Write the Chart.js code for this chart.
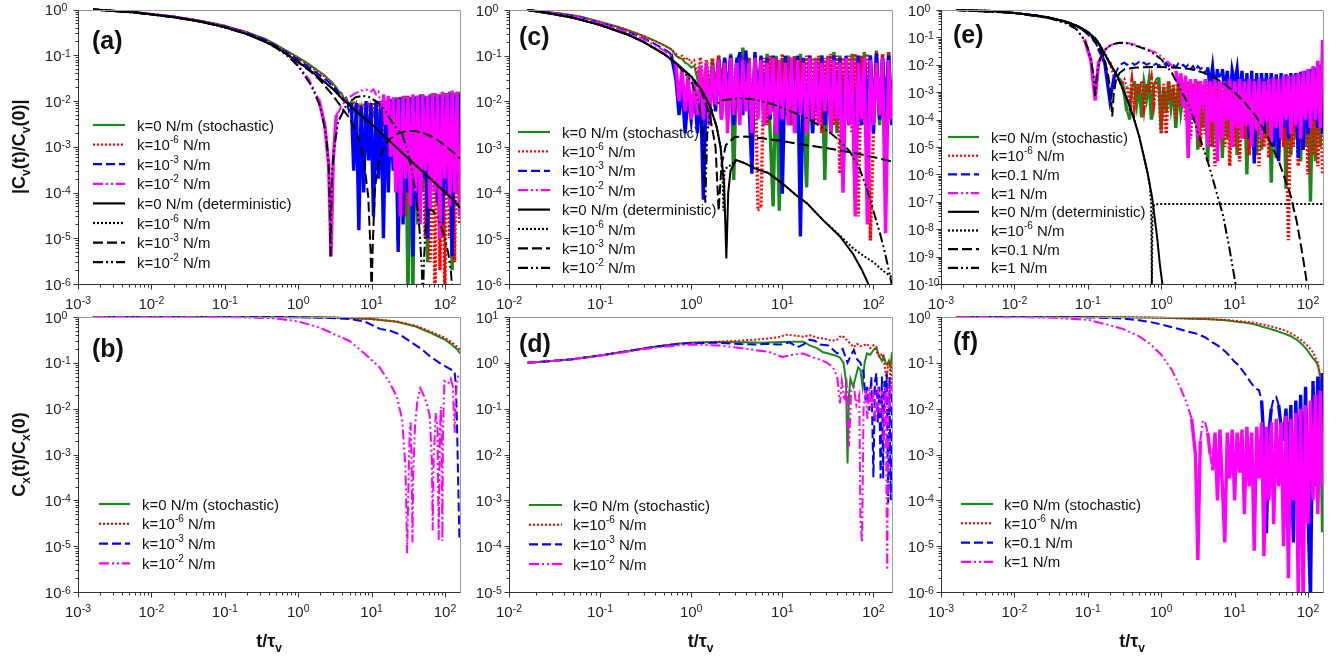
<!DOCTYPE html>
<html>
<head>
<meta charset="utf-8">
<title>Velocity and position autocorrelation</title>
<script src="https://cdn.jsdelivr.net/npm/chart.js@4.4.1/dist/chart.umd.min.js"></script>
<style>
  html, body { margin: 0; padding: 0; background: #fff; }
  #fig { position: relative; width: 1339px; height: 658px; overflow: hidden; background: #fff; }
  #fig canvas { position: absolute; }
</style>
</head>
<body>
<div id="fig">
  <canvas id="pa"></canvas>
  <canvas id="pc"></canvas>
  <canvas id="pe"></canvas>
  <canvas id="pb"></canvas>
  <canvas id="pd"></canvas>
  <canvas id="pf"></canvas>
</div>
<script>
// ---- tick labels (powers of ten) ----
const xExp3 = [-3, -2, -1, 0, 1, 2];
const xExp2 = [-2, -1, 0, 1, 2];
const yExp6 = [0, -1, -2, -3, -4, -5, -6];
const yExpD = [1, 0, -1, -2, -3, -4, -5];
const yExpE = [0, -1, -2, -3, -4, -5, -6, -7, -8, -9, -10];

// ---- legend labels ----
const labStoch = ['k=0 N/m (stochastic)', 'k=10^{-6} N/m', 'k=10^{-3} N/m', 'k=10^{-2} N/m'];
const labDet = ['k=0 N/m (deterministic)', 'k=10^{-6} N/m', 'k=10^{-3} N/m', 'k=10^{-2} N/m'];
const labStochE = ['k=0 N/m (stochastic)', 'k=10^{-6} N/m', 'k=0.1 N/m', 'k=1 N/m'];
const labDetE = ['k=0 N/m (deterministic)', 'k=10^{-6} N/m', 'k=0.1 N/m', 'k=1 N/m'];

// ---- panel (a): |Cv(t)/Cv(0)| ----
const tA = [0.0016,0.003,0.006,0.01,0.02,0.04,0.07,0.1,0.2,0.35,0.5,0.7,1,1.4,1.9,2.3,2.6,2.8,3.0,
  3.3,3.6,3.9,4.2,4.5,4.9,5.3,5.7,6.2,6.7,7.2,7.8,8.4,9.1,9.8,10.6,11.5,12.4,13.4,14.5,
  15.6,16.9,18.2,19.7,21.3,23,24.8,26.8,29,31.3,33.8,36.5,39.4,42.6,46,49.7,53.7,58,62.6,67.6,
  73,78.9,85.2,92,99.4,107,116,125,135,146,158];
const aGreen = [1,0.94,0.87,0.8,0.7,0.59,0.5,0.44,0.32,0.23,0.17,0.125,0.09,0.064,0.045,0.036,0.03,0.027,0.024,
  0.02,0.016,0.015,0.011,0.012,0.008,0.01,0.006,0.009,0.005,
  0.008,0.004,0.007,0.003,0.008,0.005,0.009,0.002,0.008,0.003,
  0.01,0.002,0.011,4e-4,0.012,8e-6,0.012,1e-4,0.013,5e-7,
  0.012,5e-7,0.013,2e-5,0.014,1e-4,0.013,3e-6,0.014,2e-4,
  0.015,5e-5,0.014,1e-5,0.015,3e-4,0.016,2e-6,0.015,1e-4,
  0.016];
const aRed = [1,0.94,0.87,0.8,0.7,0.59,0.5,0.44,0.32,0.22,0.165,0.12,0.085,0.06,0.042,0.034,0.029,0.025,0.022,
  0.019,0.015,0.014,0.011,0.01,0.009,0.007,0.01,0.006,0.008,
  0.004,0.009,0.005,0.008,0.003,0.009,0.004,0.01,0.002,0.009,
  5e-4,0.01,0.003,0.011,2e-4,0.012,1e-3,0.012,3e-5,0.013,
  2e-4,0.012,6e-5,0.013,5e-4,0.014,1e-5,0.013,3e-6,0.014,
  5e-7,0.014,2e-6,0.015,5e-7,0.014,1e-5,0.015,3e-6,0.016,
  2e-5];
const aBlue = [1,0.94,0.87,0.8,0.7,0.59,0.49,0.43,0.31,0.22,0.16,0.115,0.08,0.055,0.038,0.03,0.026,0.023,0.02,
  0.018,0.014,0.013,0.01,0.011,0.006,0.009,3e-4,0.009,1.5e-5,
  0.008,1e-4,0.01,5e-4,0.009,3e-5,0.01,2e-4,0.01,1e-5,
  0.01,1e-4,0.011,3e-4,0.011,5e-6,0.012,2e-5,0.011,1e-4,
  0.012,4e-6,0.012,5e-5,0.013,2e-4,0.012,1e-5,0.013,3e-4,
  0.012,6e-5,0.013,2e-5,0.012,1e-4,0.014,4e-6,0.013,2e-4,
  0.014];
const aMag = [1,0.94,0.87,0.8,0.7,0.59,0.49,0.43,0.3,0.2,0.15,0.1,0.06,0.03,0.011,3e-3,4e-4,4e-6,5e-4,
  5e-3,6e-3,8e-3,9e-3,0.011,0.012,0.013,0.014,0.015,0.016,
  0.017,0.017,0.018,0.017,0.016,0.018,0.014,0.016,0.008,0.014,
  0.003,0.013,6e-4,0.012,1e-4,0.011,3e-5,0.013,2e-4,0.012,
  5e-5,0.014,1e-4,0.013,2e-5,0.014,3e-4,0.013,4e-5,0.015,
  1e-4,0.014,1e-5,0.016,2e-4,0.015,5e-5,0.017,1e-4,0.016,
  3e-5];
const aDet0 = [[0.0016,1],[0.003,0.93],[0.006,0.86],[0.01,0.78],[0.02,0.68],[0.04,0.57],[0.07,0.47],[0.1,0.41],
  [0.2,0.29],[0.35,0.2],[0.5,0.15],[0.7,0.105],[1,0.072],[1.5,0.045],[2,0.031],[3,0.018],[4,0.011],[6,0.0062],
  [10,0.0031],[15,0.0017],[20,0.0011],[30,6e-4],[50,2.8e-4],[70,1.7e-4],[100,1e-4],[130,6.8e-5],[160,4.6e-5]];
const aDet6 = [[0.0016,1],[0.003,0.93],[0.006,0.86],[0.01,0.78],[0.02,0.68],[0.04,0.57],[0.07,0.47],[0.1,0.41],
  [0.2,0.29],[0.35,0.2],[0.5,0.15],[0.7,0.105],[1,0.072],[1.5,0.045],[2,0.031],[3,0.018],[4,0.011],[6,0.0062],
  [10,0.0031],[15,0.0017],[20,0.0011],[30,6.1e-4],[50,2.9e-4],[70,1.75e-4],[100,1.05e-4],[130,7.2e-5],[160,5e-5]];
const aDet3 = [[0.0016,1],[0.003,0.93],[0.006,0.86],[0.01,0.78],[0.02,0.68],[0.04,0.57],[0.07,0.47],[0.1,0.41],
  [0.2,0.29],[0.35,0.2],[0.5,0.15],[0.7,0.104],[1,0.07],[1.5,0.043],[2,0.028],[3,0.013],[4,0.0068],[5,0.0042],
  [6,0.0024],[7,0.0012],[8,4e-4],[9,8e-5],[9.7,5e-6],[10,5e-7],[10.3,5e-6],[11,1e-4],[12,3.5e-4],[14,8e-4],
  [17,1.4e-3],[22,1.9e-3],[30,2.2e-3],[40,2.2e-3],[55,1.9e-3],[75,1.5e-3],[100,1.05e-3],[130,7.5e-4],[160,5.5e-4]];
const aDet2 = [[0.0016,1],[0.003,0.93],[0.006,0.86],[0.01,0.78],[0.02,0.68],[0.04,0.57],[0.07,0.47],[0.1,0.41],
  [0.2,0.29],[0.35,0.2],[0.5,0.145],[0.7,0.1],[1,0.058],[1.5,0.022],[2,0.0075],[2.4,0.0018],[2.6,4e-4],
  [2.7,3.5e-5],[2.75,4e-6],[2.8,3e-5],[2.9,3e-4],[3.1,1e-3],[3.5,3.5e-3],[4.5,8e-3],[6,0.012],[7.5,0.013],
  [9,0.0125],[12,0.0095],[15,0.0065],[20,0.003],[26,1.9e-3],[31,8e-4],[36,2.5e-4],[41,7e-5],[45,1.5e-5],
  [48,2.5e-6],[50,5e-7],[52,4e-6],[55,2.2e-5],[60,4.2e-5],[68,4e-5],[80,2.8e-5],[95,1.3e-5],[110,5e-6],
  [120,2e-6],[128,5e-7]];

// ---- panel (b): Cx(t)/Cx(0) ----
const bGreen = [[0.0016,1],[0.1,1],[1,0.99],[3,0.97],[10,0.9],[22,0.79],[40,0.62],[62,0.46],[80,0.38],
  [100,0.32],[120,0.26],[135,0.22],[145,0.2],[160,0.16]];
const bRed = [[0.0016,1],[0.1,1],[1,0.99],[3,0.97],[10,0.9],[22,0.8],[40,0.64],[62,0.49],[80,0.41],
  [100,0.35],[120,0.29],[135,0.25],[148,0.22],[160,0.19]];
const bBlue = [[0.0016,1],[0.5,1],[1,0.99],[2.7,0.95],[5,0.9],[8,0.8],[13,0.55],[18,0.5],[24,0.42],[36,0.27],
  [50,0.19],[62,0.14],[84,0.1],[100,0.085],[123,0.07],[135,0.065],[141,0.03],[145,6e-3],[149,8e-4],
  [153,1e-4],[157,1.5e-5]];
const bMag = [[0.0016,1],[0.05,1],[0.2,0.98],[0.5,0.93],[1,0.8],[2,0.58],[3,0.43],[5,0.3],[8,0.16],
  [12.8,0.08],[18,0.035],[22,0.018],[26,0.006],[29,5e-4],[30.5,7e-6],[32,4e-4],[33,3e-3],[34,5e-3],
  [35,8e-4],[36,1.2e-5],[37,4e-4],[39,4e-3],[42,0.015],[46,0.028],[51,0.02],[57,0.012],[62,0.007],
  [66,8e-4],[68,2.2e-5],[70,8e-4],[75,0.008],[79,0.004],[82,1.3e-5],[85,0.003],[88,0.011],[90,0.002],
  [92,1.3e-5],[94,0.003],[98,0.04],[110,0.035],[120,0.045],[128,0.03],[133,0.006],[136,0.003],
  [140,0.02],[150,0.05],[160,0.048]];

// ---- panel (c): |Cv(t)/Cv(0)| ----
const tC = [0.016,0.025,0.04,0.06,0.1,0.15,0.2,0.3,0.4,0.5,0.6,
  0.681,0.736,0.794,0.858,0.926,1,1.08,1.17,1.26,1.36,1.47,1.58,1.71,1.85,2,2.15,2.33,2.51,2.71,2.93,
  3.16,3.41,3.69,3.98,4.3,4.64,5.01,5.41,5.84,6.31,6.81,7.36,7.94,8.58,9.26,10,10.8,11.7,12.6,13.6,
  14.7,15.8,17.1,18.5,20,21.5,23.3,25.1,27.1,29.3,31.6,34.1,36.9,39.8,43,46.4,50.1,54.1,58.4,63.1,
  68.1,73.6,79.4,85.8,92.6,100,108,117,126,136,147,158];
const cGreen = [1,0.92,0.82,0.72,0.55,0.44,0.36,0.27,0.21,0.17,0.14,
  0.1,0.09,0.085,0.07,0.065,0.055,0.06,0.03,0.06,1.9e-4,
  0.06,0.01,0.08,0.015,0.1,0.02,0.09,0.008,0.11,1.9e-4,
  0.09,0.004,0.15,0.01,0.09,0.003,0.1,0.008,0.09,0.005,
  0.11,0.002,5e-5,0.1,4e-5,0.09,0.006,0.1,0.003,0.09,
  0.002,0.11,0.004,1.3e-4,0.1,0.002,0.09,0.004,0.1,1.9e-4,
  0.1,0.005,0.12,0.002,0.1,0.006,0.09,0.003,0.11,0.001,
  0.1,0.004,0.12,0.002,0.1,0.005,0.13,0.003,0.1,0.002,
  0.12,0.004];
const cRed = [1,0.92,0.82,0.72,0.55,0.44,0.37,0.27,0.21,0.17,0.14,
  0.11,0.09,0.1,0.08,0.09,0.07,0.08,0.04,0.09,0.02,
  0.08,0.015,0.09,0.01,0.1,0.02,0.08,0.006,0.1,0.01,
  0.09,0.005,0.1,0.008,0.09,0.002,0.1,4e-5,5e-5,0.09,
  0.003,0.1,0.006,0.09,0.002,0.11,0.005,0.09,0.003,0.1,
  0.004,0.09,0.002,0.1,0.006,0.09,0.003,0.1,0.002,0.09,
  0.005,0.11,0.003,0.1,2.6e-4,0.09,0.004,0.1,0.002,0.11,
  3e-5,0.1,0.003,0.11,9e-6,0.002,0.12,0.004,0.11,0.003,
  0.12,0.005];
const cBlue = [1,0.91,0.8,0.7,0.53,0.41,0.33,0.24,0.18,0.14,0.11,
  0.03,0.005,0.02,0.002,0.015,0.004,0.02,0.002,0.03,7e-5,
  0.04,0.003,0.05,0.006,0.08,0.004,0.09,0.01,0.1,0.003,
  0.08,0.12,0.005,0.13,0.01,2.6e-4,0.12,0.006,0.1,0.003,
  0.09,0.004,0.1,0.002,0.08,9.5e-5,0.1,0.003,0.09,0.005,
  0.1,1.1e-5,0.09,0.003,0.1,0.002,0.08,0.004,0.1,0.003,
  0.09,0.002,0.1,0.004,0.09,1.5e-4,0.1,0.003,0.08,8e-5,
  0.1,0.003,0.09,0.005,0.1,0.002,0.11,0.004,0.09,0.006,
  0.1,0.003];
const cMag = [1,0.9,0.79,0.69,0.52,0.4,0.32,0.23,0.17,0.13,0.1,
  0.06,0.01,0.05,0.006,0.04,0.004,0.03,0.005,0.06,0.004,
  0.07,0.003,0.06,0.008,0.08,0.004,0.07,0.002,0.09,0.005,
  0.07,0.003,0.08,0.006,0.07,0.002,0.09,0.004,0.08,0.003,
  0.07,0.005,0.09,0.002,0.08,0.004,0.07,0.003,0.09,0.002,
  0.08,0.005,0.07,0.002,0.09,0.004,0.08,0.003,0.07,0.006,
  0.09,0.002,0.08,0.004,0.07,1e-4,0.09,0.003,0.08,3e-5,
  0.07,0.004,0.09,2e-5,0.08,0.003,0.07,0.005,0.09,1.3e-5,
  0.08,0.004];
const cDet0 = [[0.016,1],[0.03,0.82],[0.05,0.68],[0.1,0.47],[0.2,0.29],[0.3,0.2],[0.5,0.11],[0.7,0.066],
  [1,0.035],[1.3,0.018],[1.6,0.008],[1.9,2.8e-3],[2.1,1e-3],[2.3,1.5e-4],[2.43,3.6e-6],[2.55,1e-4],
  [2.7,3e-4],[3.1,5.2e-4],[3.8,4.5e-4],[5,3.4e-4],[7,2.7e-4],[10,1.6e-4],[14,9e-5],[18.6,5.9e-5],
  [28,2.5e-5],[43,1.1e-5],[60,4.5e-6],[75,2e-6],[88,1e-6],[100,6e-7]];
const cDet6 = [[0.016,1],[0.03,0.82],[0.05,0.68],[0.1,0.47],[0.2,0.29],[0.3,0.2],[0.5,0.11],[0.7,0.066],
  [1,0.035],[1.3,0.018],[1.6,0.008],[1.9,2.8e-3],[2.1,1e-3],[2.2,3e-4],[2.26,4e-5],[2.32,3e-4],
  [2.45,3.5e-4],[2.7,4e-4],[3.1,5.2e-4],[3.8,4.5e-4],[5,3.4e-4],[7,2.7e-4],[10,1.6e-4],[14,9e-5],
  [18.6,5.9e-5],[28,2.5e-5],[43,1.15e-5],[60,6e-6],[80,4e-6],[100,3e-6],[130,1.9e-6],[160,1.4e-6]];
const cDet3 = [[0.016,1],[0.03,0.82],[0.05,0.68],[0.1,0.47],[0.2,0.29],[0.3,0.2],[0.5,0.11],[0.7,0.066],
  [1,0.034],[1.3,0.016],[1.6,5e-3],[1.85,1e-3],[2.0,4e-5],[2.15,4e-4],[2.4,1.1e-3],[3,1.65e-3],[4,1.7e-3],
  [6,1.55e-3],[10,1.35e-3],[18,1.1e-3],[30,9.5e-4],[45,8.3e-4],[70,7e-4],[100,6e-4],[130,5.3e-4],[160,4.8e-4]];
const cDet2 = [[0.016,1],[0.03,0.82],[0.05,0.68],[0.1,0.47],[0.2,0.29],[0.3,0.2],[0.5,0.11],[0.7,0.064],
  [1,0.028],[1.2,0.01],[1.35,2e-3],[1.43,6e-5],[1.5,2e-3],[1.6,5e-3],[1.8,8e-3],[2.2,0.0105],[3.4,0.0118],
  [5,0.011],[8,0.0085],[12,0.0062],[18.6,4.3e-3],[25,3e-3],[33,2.1e-3],[42,1.4e-3],[55,8e-4],[70,3.5e-4],
  [85,1.2e-4],[100,4e-5],[118,1.3e-5],[135,4.5e-6],[150,1.7e-6],[160,9e-7]];

// ---- panel (d): Cx(t)/Cx(0) ----
const dGreen = [[0.016,1],[0.03,1.1],[0.05,1.2],[0.1,1.45],[0.2,1.8],[0.4,2.25],[0.7,2.6],[1,2.75],[2,2.85],
  [4,2.8],[6,2.75],[8,2.8],[10,2.85],[13,2.9],[17,2.9],[20,2.4],[24,2.1],[28,1.7],[32,1.6],[38,1.45],
  [43,1.3],[47,1.0],[50,0.4],[52,0.0064],[54,0.2],[56,0.45],[60,0.3],[64,0.5],[68,0.8],[72,0.7],[76,0.3],
  [80,1.0],[85,1.6],[92,1.5],[100,1.9],[108,2.2],[114,1.5],[118,1.3],[124,1.1],[130,1.4],[136,1.0],
  [142,0.9],[148,1.1],[154,0.8],[160,1.7]];
const dRed = [[0.016,1],[0.03,1.1],[0.05,1.2],[0.1,1.45],[0.2,1.8],[0.4,2.25],[0.7,2.6],[1,2.75],[2,2.9],
  [3,3.0],[5,3.2],[7,3.4],[9,3.6],[11,4.1],[14,3.9],[17,3.7],[20,4.0],[25,3.5],[30,3.3],[35,3.0],[40,3.2],
  [44,3.9],[48,3.6],[52,3.0],[56,2.6],[61,2.2],[66,2.6],[72,2.3],[78,2.4],[85,2.6],[92,2.1],[100,2.4],
  [108,1.8],[114,1.4],[118,1.35],[124,1.6],[130,1.2],[136,0.6],[140,0.43],[146,1.1],[152,0.8],[156,0.25],
  [160,1.0]];
const dBlue = [[0.016,1],[0.03,1.1],[0.05,1.2],[0.1,1.45],[0.2,1.8],[0.4,2.25],[0.7,2.55],[1,2.7],[2,2.75],
  [3,2.6],[5,2.5],[7,2.6],[9.5,2.5],[12,2.8],[14.7,2.2],[17,2.5],[20,3.2],[23,3.0],[26,2.5],[32,2.4],
  [40,1.6],[46,2.0],[52,1.0],[56,1.4],[61,1.9],[66,1.2],[72,1.0],[78,0.6],[82,0.15],[85,0.3],[90,0.09],
  [95,0.5],[100,3.2e-3],[104,0.4],[108,0.6],[112,0.05],[116,0.3],[120,3e-3],[124,0.5],[128,3e-3],
  [132,0.4],[136,0.2],[140,0.6],[145,8.7e-4],[150,0.5],[155,1e-3],[160,0.3]];
const dMag = [[0.016,1],[0.03,1.1],[0.05,1.2],[0.1,1.43],[0.2,1.75],[0.4,2.15],[0.7,2.4],[1,2.5],[2,2.4],
  [3,2.2],[5,1.9],[7,1.75],[10,1.35],[13,1.5],[17,1.6],[22,1.3],[27,1.15],[31,1.0],[36,0.8],[40,0.5],
  [43,0.13],[45,0.4],[48,0.15],[51,0.3],[54,0.015],[57,0.25],[61,0.3],[65,0.12],[70,0.2],[72,3.7e-4],
  [75,1.2e-4],[78,0.1],[82,0.25],[86,0.06],[90,0.3],[95,0.1],[100,0.2],[106,0.05],[112,0.3],[118,0.08],
  [124,0.25],[130,0.02],[136,0.3],[140,4.6e-4],[142,3e-5],[146,0.25],[150,0.1],[155,0.3],[160,0.25]];

// ---- panel (e): |Cv(t)/Cv(0)| ----
const tE = [0.0016,0.005,0.01,0.02,0.03,0.05,0.07,0.09,0.11,0.126,0.14,0.17,0.2,0.23,0.26,
  0.293,0.316,0.341,0.369,0.398,0.43,0.464,0.501,0.541,0.584,0.631,0.681,0.736,0.794,0.858,0.926,
  1,1.08,1.17,1.26,1.36,1.47,1.58,1.71,1.85,2,2.15,2.33,2.51,2.71,2.93,3.16,3.41,3.69,3.98,4.3,4.64,
  5.01,5.41,5.84,6.31,6.81,7.36,7.94,8.58,9.26,10,10.8,11.7,12.6,13.6,14.7,15.8,17.1,18.5,20,21.5,
  23.3,25.1,27.1,29.3,31.6,34.1,36.9,39.8,43,46.4,50.1,54.1,58.4,63.1,68.1,73.6,79.4,85.8,92.6,
  100,108,117,126,136,147,158];
const eGreen = [1,0.92,0.78,0.63,0.52,0.38,0.27,0.19,0.12,0.09,0.065,0.025,0.011,6e-3,3.5e-3,
  2.5e-3,8e-4,2e-4,1e-4,1.5e-3,2.5e-3,4e-4,2e-3,1.2e-4,2e-3,
  6e-4,2.5e-3,1e-4,2e-3,3e-3,3.5e-3,4e-5,1.5e-3,2e-4,2.5e-3,
  3e-4,1.5e-3,5e-5,2e-3,2e-4,1e-3,1.5e-3,3e-5,2e-3,1e-4,
  1.5e-3,8e-6,2e-3,5e-5,2.5e-3,3e-6,2e-3,1e-5,2.5e-3,5e-5,
  2e-3,4e-6,2.5e-3,2e-5,2e-3,1e-5,3e-3,5e-6,2.5e-3,3e-5,
  3e-3,1e-6,2.5e-3,3e-5,3e-3,5e-6,2.5e-3,8e-6,3e-3,2e-5,
  3e-3,5e-7,3.5e-3,4e-6,3e-3,2e-5,3.5e-3,3e-7,3e-3,5e-6,
  3.5e-3,2e-5,4e-3,3e-6,3.5e-3,1e-5,4e-3,1e-7,4e-3,3e-6,
  5e-3,1e-5,6e-3];
const eRed = [1,0.92,0.78,0.63,0.52,0.38,0.27,0.19,0.12,0.09,0.065,0.028,0.012,4e-3,3e-3,
  2e-3,3e-3,1.5e-3,5e-4,2.5e-3,3e-4,2e-3,1e-3,2.5e-3,3e-4,
  2e-3,1e-3,3e-3,4e-4,2.5e-3,1.5e-3,3e-5,2e-3,3e-5,2.5e-3,
  5e-4,2e-3,1e-4,2.5e-3,3e-4,2e-3,1e-4,2.5e-3,2e-5,2e-3,
  1e-4,2.5e-3,1e-5,2e-3,3e-5,2.5e-3,1e-5,2e-3,2e-6,2.5e-3,
  3e-5,2.5e-3,1e-5,3e-3,2e-6,2.5e-3,1e-5,3e-3,3e-6,2.5e-3,
  2e-5,3e-3,5e-6,3e-3,1e-5,3e-3,2e-6,3.5e-3,1e-5,3e-3,
  4e-6,3.5e-3,2e-5,3e-3,5e-6,3.5e-3,1e-5,3e-3,4e-9,3.5e-3,
  1e-5,4e-3,2e-6,3.5e-3,8e-6,4e-3,1e-6,4.5e-3,5e-6,4e-3,
  2e-6,5e-3,1e-6];
const eBlue = [1,0.92,0.78,0.63,0.52,0.37,0.26,0.17,0.1,0.065,0.04,0.012,5e-4,4e-3,8e-3,
  0.011,0.012,0.01,0.011,0.012,0.01,0.011,0.013,0.011,0.012,
  0.01,0.011,0.012,0.01,0.011,0.009,0.011,0.01,0.012,0.009,
  0.011,0.01,0.008,0.011,0.009,0.01,0.008,0.01,0.007,0.009,
  0.006,0.009,0.007,0.008,0.005,0.008,1.5e-3,0.008,9e-4,0.007,
  3e-3,0.007,1e-3,0.006,3e-4,0.006,2e-3,0.007,5e-4,0.006,
  1e-4,0.005,2e-5,0.006,2.5e-6,0.005,1e-4,0.005,3e-5,0.005,
  2e-4,0.005,1e-5,0.0045,3e-6,0.005,5e-5,0.0045,2e-5,0.005,
  1e-4,0.005,4e-6,0.0055,8e-6,0.006,3e-5,0.007,1e-4,0.008,
  5e-5,0.01,3e-5];
const eMag = [1,0.92,0.78,0.63,0.51,0.34,0.2,0.085,0.015,5e-4,0.012,0.035,0.05,0.058,0.062,
  0.064,0.064,0.063,0.06,0.058,0.055,0.052,0.048,0.045,0.042,
  0.038,0.035,0.032,0.03,0.027,0.024,0.02,0.017,0.014,0.012,
  0.01,0.008,6e-3,2e-3,5e-3,3e-4,4e-3,4e-6,3e-3,1e-4,
  3e-3,2e-5,2.5e-3,5e-4,3e-3,1e-5,2.5e-3,8e-5,3e-3,3e-6,
  2.5e-3,2e-5,2.5e-3,1e-4,3e-3,1e-5,2.5e-3,5e-5,3e-3,2e-5,
  2.5e-3,6e-5,3e-3,1e-5,2.5e-3,4e-5,3e-3,2e-5,2.5e-3,8e-5,
  3e-3,1.5e-5,3.5e-3,5e-5,3e-3,2e-5,4e-3,1e-4,4e-3,3e-5,
  4.5e-3,6e-5,5e-3,2e-5,6e-3,1e-4,7e-3,5e-5,9e-3,1e-4,
  0.014,5e-5,0.08];
const eDet0 = [[0.0016,1],[0.005,0.92],[0.01,0.78],[0.02,0.63],[0.03,0.52],[0.05,0.38],[0.072,0.26],
  [0.1,0.16],[0.13,0.085],[0.17,0.025],[0.21,9e-3],[0.25,4e-3],[0.3,1.3e-3],[0.36,4e-4],[0.42,1.2e-4],
  [0.5,2.5e-5],[0.58,4.5e-6],[0.65,1.2e-6],[0.75,1.5e-7],[0.88,5e-9],[0.96,5e-10],[1.05,8e-11]];
const eDet6 = [[0.0016,1],[0.005,0.92],[0.01,0.78],[0.02,0.63],[0.03,0.52],[0.05,0.38],[0.072,0.26],
  [0.1,0.16],[0.13,0.085],[0.17,0.025],[0.21,9e-3],[0.25,4e-3],[0.3,1.3e-3],[0.36,4e-4],[0.42,1.2e-4],
  [0.5,2.5e-5],[0.58,4.5e-6],[0.65,1.1e-6],[0.7,4e-7],[0.73,8e-8],[0.745,5e-11],[0.76,3e-8],[0.8,8e-8],
  [1,8.3e-8],[10,8.3e-8],[100,8.3e-8],[160,8.3e-8]];
const eDet1 = [[0.0016,1],[0.01,0.78],[0.03,0.52],[0.05,0.37],[0.08,0.21],[0.11,0.11],[0.14,0.05],
  [0.17,0.015],[0.19,4e-3],[0.205,8e-4],[0.215,1.3e-4],[0.225,8e-4],[0.24,2.5e-3],[0.27,5e-3],[0.32,7e-3],
  [0.45,8e-3],[0.8,8.3e-3],[1.5,8e-3],[2.5,7e-3],[3.5,5.5e-3],[5,3.8e-3],[7,2.2e-3],[10,1e-3],[14,4e-4],
  [20,1.2e-4],[28,2.5e-5],[40,3e-6],[57,2e-7],[70,2e-8],[85,1e-9],[97,1e-10],[105,2e-11]];
const eDetK1 = [[0.0016,1],[0.01,0.78],[0.03,0.5],[0.05,0.33],[0.07,0.2],[0.09,0.08],[0.1,0.04],
  [0.11,0.015],[0.12,4e-3],[0.126,7e-4],[0.132,4e-3],[0.145,0.015],[0.17,0.035],[0.21,0.055],[0.27,0.064],
  [0.35,0.06],[0.5,0.045],[0.7,0.032],[1,0.016],[1.4,5e-3],[1.8,1.4e-3],[2.5,2.5e-4],[3.1,4e-5],[4.3,3e-6],
  [5.5,3e-7],[7,3e-8],[8.5,2e-9],[10.3,1e-10],[11,3e-11]];

// ---- panel (f): Cx(t)/Cx(0) ----
const tF = [0.0016,0.01,0.03,0.1,0.2,0.3,0.5,0.7,1,1.4,1.8,2.2,2.6,
  2.93,3.16,3.41,3.69,3.98,4.3,4.64,5.01,5.41,5.84,6.31,6.81,7.36,7.94,8.58,9.26,
  10,10.8,11.7,12.6,13.6,14.7,15.8,17.1,18.5,20,21.5,23.3,25.1,27.1,29.3,31.6,34.1,36.9,39.8,43,
  46.4,50.1,54.1,58.4,63.1,68.1,73.6,79.4,85.8,92.6,100,108,117,126,136,147,158];
const fGreen = [1,1,1,1,0.99,0.99,0.98,0.97,0.96,0.95,0.94,0.93,0.92,
  0.92,0.91,0.91,0.9,0.9,0.89,0.89,0.88,0.88,0.87,0.86,0.86,0.85,0.84,0.83,0.82,
  0.8,0.79,0.78,0.77,0.76,0.74,0.73,0.71,0.69,0.67,
  0.65,0.62,0.6,0.58,0.56,0.54,0.52,0.5,0.48,0.46,
  0.44,0.42,0.4,0.38,0.35,0.33,0.3,0.27,0.24,0.21,
  0.18,0.15,0.125,0.11,0.09,0.05,2e-5];
const fRed = [1,1,1,1,0.99,0.99,0.98,0.97,0.96,0.95,0.94,0.93,0.92,
  0.93,0.92,0.92,0.91,0.91,0.9,0.9,0.89,0.89,0.88,0.88,0.87,0.87,0.86,0.85,0.84,
  0.83,0.82,0.81,0.8,0.79,0.78,0.77,0.76,0.75,0.73,
  0.72,0.7,0.68,0.66,0.64,0.62,0.6,0.58,0.56,0.54,
  0.52,0.5,0.47,0.44,0.41,0.38,0.35,0.32,0.29,0.26,
  0.23,0.2,0.17,0.13,0.1,0.05,0.02];
const fBlue = [1,1,0.99,0.98,0.95,0.92,0.85,0.78,0.69,0.6,0.54,0.49,0.46,
  0.44,0.42,0.4,0.38,0.36,0.33,0.31,0.28,0.26,0.24,0.22,0.2,0.18,0.16,0.14,0.12,
  0.105,0.095,0.083,0.07,0.06,0.05,0.042,0.035,0.03,0.027,
  0.025,0.015,2e-3,1.9e-5,3e-3,0.01,0.017,0.018,0.012,4e-3,
  2e-3,0.01,5e-4,0.012,1.2e-5,0.015,3e-4,0.02,1e-4,0.03,
  5e-5,7e-7,0.04,2e-4,0.05,1e-3,0.06];
const fMag = [1,0.99,0.97,0.87,0.66,0.55,0.38,0.26,0.15,0.07,0.03,0.014,6e-3,
  1e-3,5e-6,2e-3,5.5e-3,5e-3,3e-3,1e-3,4.5e-4,3e-3,1e-4,3.5e-3,2e-4,1.2e-5,3e-3,3e-4,3.5e-3,
  1e-4,3e-3,4e-4,3.5e-3,5e-5,4e-3,2e-4,3e-3,8e-6,4e-3,
  3e-4,5e-3,6e-6,4e-3,1e-4,5e-3,3e-5,6e-3,2e-4,5e-3,
  1e-5,7e-3,2e-6,6e-3,1e-4,8e-3,9e-7,0.01,5e-7,0.012,
  3e-5,0.015,1e-4,0.02,5e-5,0.025,2e-4];

// ---- styles ----
const FAMILY = '"Liberation Sans", Arial, Helvetica, sans-serif';
const ST = {
  green: { c: '#1a8a1a', d: [] },
  red: { c: '#ff0000', d: [2, 2] },
  blue: { c: '#0000ff', d: [9, 4] },
  mag: { c: '#ff00ff', d: [10, 3, 2, 3, 2, 3] },
  k0: { c: '#000000', d: [] },
  k6: { c: '#000000', d: [2, 2] },
  k3: { c: '#000000', d: [10, 4] },
  k2: { c: '#000000', d: [10, 3, 2, 3, 2, 3] }
};

function zip(ts, ys) {
  const out = [];
  ts.forEach((t, i) => { if (ys[i] !== undefined) out.push([t, ys[i]]); });
  return out;
}
function ser(label, st, pts, noisy) { return { label: label, st: st, pts: pts, noisy: !!noisy }; }

// page coordinates for each panel (canvas box and plot area)
const PANELS = {
  pa: { ox: 0, oy: 0, w: 470, h: 318, ca: [78, 9.5, 460, 284], xMin: 1e-3, xMax: 160, yMin: 1e-6, yMax: 1,
    xExp: xExp3, yExp: yExp6, letter: '(a)', lpos: [92, 49],
    legend: { x1: 93, x2: 125, tx: 137, y0: 125, dy: 19.6 }, yTitle: '|C_{v}(t)/C_{v}(0)|',
    series: [ser(labStoch[0], ST.green, zip(tA, aGreen), 1), ser(labStoch[1], ST.red, zip(tA, aRed), 1),
      ser(labStoch[2], ST.blue, zip(tA, aBlue), 1), ser(labStoch[3], ST.mag, zip(tA, aMag), 1),
      ser(labDet[0], ST.k0, aDet0), ser(labDet[1], ST.k6, aDet6), ser(labDet[2], ST.k3, aDet3), ser(labDet[3], ST.k2, aDet2)] },
  pc: { ox: 440, oy: 0, w: 460, h: 318, ca: [509, 10, 892, 284], xMin: 1e-2, xMax: 160, yMin: 1e-6, yMax: 1,
    xExp: xExp2, yExp: yExp6, letter: '(c)', lpos: [519, 45],
    legend: { x1: 518, x2: 550, tx: 562, y0: 132, dy: 19.4 },
    series: [ser(labStoch[0], ST.green, zip(tC, cGreen), 1), ser(labStoch[1], ST.red, zip(tC, cRed), 1),
      ser(labStoch[2], ST.blue, zip(tC, cBlue), 1), ser(labStoch[3], ST.mag, zip(tC, cMag), 1),
      ser(labDet[0], ST.k0, cDet0), ser(labDet[1], ST.k6, cDet6), ser(labDet[2], ST.k3, cDet3), ser(labDet[3], ST.k2, cDet2)] },
  pe: { ox: 880, oy: 0, w: 459, h: 318, ca: [941, 10, 1323, 284], xMin: 1e-3, xMax: 160, yMin: 1e-10, yMax: 1,
    xExp: xExp3, yExp: yExpE, letter: '(e)', lpos: [953, 43],
    legend: { x1: 948, x2: 979, tx: 991, y0: 137, dy: 18.7 },
    series: [ser(labStochE[0], ST.green, zip(tE, eGreen), 1), ser(labStochE[1], ST.red, zip(tE, eRed), 1),
      ser(labStochE[2], ST.blue, zip(tE, eBlue), 1), ser(labStochE[3], ST.mag, zip(tE, eMag), 1),
      ser(labDetE[0], ST.k0, eDet0), ser(labDetE[1], ST.k6, eDet6), ser(labDetE[2], ST.k3, eDet1), ser(labDetE[3], ST.k2, eDetK1)] },
  pb: { ox: 0, oy: 300, w: 470, h: 358, ca: [78, 317, 460, 592], xMin: 1e-3, xMax: 160, yMin: 1e-6, yMax: 1,
    xExp: xExp3, yExp: yExp6, letter: '(b)', lpos: [92, 357],
    legend: { x1: 99, x2: 130, tx: 142, y0: 504, dy: 19.8 }, yTitle: 'C_{x}(t)/C_{x}(0)', xTitle: true,
    series: [ser(labStoch[0], ST.green, bGreen), ser(labStoch[1], ST.red, bRed),
      ser(labStoch[2], ST.blue, bBlue), ser(labStoch[3], ST.mag, bMag)] },
  pd: { ox: 440, oy: 300, w: 460, h: 358, ca: [509, 317, 892, 592], xMin: 1e-2, xMax: 160, yMin: 1e-5, yMax: 10,
    xExp: xExp2, yExp: yExpD, letter: '(d)', lpos: [519, 352],
    legend: { x1: 529, x2: 562, tx: 573, y0: 505, dy: 19.7 }, xTitle: true,
    series: [ser(labStoch[0], ST.green, dGreen), ser(labStoch[1], ST.red, dRed),
      ser(labStoch[2], ST.blue, dBlue), ser(labStoch[3], ST.mag, dMag)] },
  pf: { ox: 880, oy: 300, w: 459, h: 358, ca: [941, 317, 1323, 592], xMin: 1e-3, xMax: 160, yMin: 1e-6, yMax: 1,
    xExp: xExp3, yExp: yExp6, letter: '(f)', lpos: [953, 350],
    legend: { x1: 961, x2: 993, tx: 1004, y0: 504, dy: 19.3 }, xTitle: true,
    series: [ser(labStochE[0], ST.green, zip(tF, fGreen), 1), ser(labStochE[1], ST.red, zip(tF, fRed), 1),
      ser(labStochE[2], ST.blue, zip(tF, fBlue), 1), ser(labStochE[3], ST.mag, zip(tF, fMag), 1)] }
};

// text with ^{sup} and _{sub} parts
function drawRich(ctx, text, x, y, size, opts) {
  const bold = opts.bold ? 'bold ' : '';
  const small = Math.round(size * 0.68);
  const parts = [];
  const re = /([\^_])\{([^}]*)\}/g;
  let last = 0, m;
  while ((m = re.exec(text)) !== null) {
    if (m.index > last) parts.push({ s: text.slice(last, m.index), k: 0 });
    parts.push({ s: m[2], k: m[1] === '^' ? 1 : -1 });
    last = re.lastIndex;
  }
  if (last < text.length) parts.push({ s: text.slice(last), k: 0 });
  let total = 0;
  parts.forEach(p => {
    ctx.font = bold + (p.k ? small : size) + 'px ' + FAMILY;
    p.w = ctx.measureText(p.s).width;
    total += p.w;
  });
  let cx = opts.align === 'center' ? x - total / 2 : x;
  ctx.textAlign = 'left';
  ctx.textBaseline = 'alphabetic';
  parts.forEach(p => {
    ctx.font = bold + (p.k ? small : size) + 'px ' + FAMILY;
    const dy = p.k === 1 ? -(opts.sup || size * 0.4) : (p.k === -1 ? size * 0.28 : 0);
    ctx.fillText(p.s, cx, y + dy);
    cx += p.w;
  });
}

const decor = {
  id: 'decor',
  beforeDatasetsDraw(chart) {
    const p = PANELS[chart.canvas.id];
    const ctx = chart.ctx, lg = p.legend;
    ctx.save();
    ctx.translate(-p.ox, -p.oy);
    chart.data.datasets.forEach((ds, i) => {
      const y = lg.y0 + i * lg.dy;
      ctx.save();
      ctx.strokeStyle = ds.borderColor;
      ctx.lineWidth = 2.2;
      ctx.setLineDash(ds.borderDash);
      ctx.beginPath();
      ctx.moveTo(lg.x1, y);
      ctx.lineTo(lg.x2, y);
      ctx.stroke();
      ctx.restore();
      ctx.fillStyle = '#111';
      drawRich(ctx, ds.label, lg.tx, y + 5.5, 15, { sup: 7 });
    });
    ctx.restore();
  },
  afterDatasetsDraw(chart) {
    const p = PANELS[chart.canvas.id];
    const ctx = chart.ctx, ca = chart.chartArea, xs = chart.scales.x, ys = chart.scales.y;
    const L = Math.round(ca.left) + 0.5, B = Math.round(ca.bottom) + 0.5;
    const T = Math.round(ca.top) + 0.5, R = Math.round(ca.right) + 0.5;
    ctx.save();
    // frame
    ctx.lineWidth = 1;
    ctx.strokeStyle = '#9a9a9a';
    ctx.beginPath();
    ctx.moveTo(L, T); ctx.lineTo(R, T); ctx.lineTo(R, B);
    ctx.stroke();
    ctx.strokeStyle = '#333';
    ctx.beginPath();
    ctx.moveTo(L, T); ctx.lineTo(L, B); ctx.lineTo(R, B);
    ctx.stroke();
    // ticks
    ctx.beginPath();
    const ex0 = Math.floor(Math.log10(p.xMin)), ex1 = Math.ceil(Math.log10(p.xMax));
    for (let e = ex0; e <= ex1; e++) {
      for (let k = 1; k < 10; k++) {
        const v = k * Math.pow(10, e);
        if (v < p.xMin * 0.999 || v > p.xMax * 1.001) continue;
        const px = Math.round(xs.getPixelForValue(v)) + 0.5;
        ctx.moveTo(px, B); ctx.lineTo(px, B + (k === 1 ? 5 : 3));
      }
    }
    const ey0 = Math.floor(Math.log10(p.yMin)), ey1 = Math.ceil(Math.log10(p.yMax));
    for (let e = ey0; e <= ey1; e++) {
      for (let k = 1; k < 10; k++) {
        const v = k * Math.pow(10, e);
        if (v < p.yMin * 0.999 || v > p.yMax * 1.001) continue;
        const py = Math.round(ys.getPixelForValue(v)) + 0.5;
        ctx.moveTo(L, py); ctx.lineTo(L - (k === 1 ? 5 : 3), py);
      }
    }
    ctx.stroke();
    // tick labels
    ctx.fillStyle = '#222';
    ctx.textAlign = 'left';
    ctx.textBaseline = 'alphabetic';
    ctx.font = '15px ' + FAMILY;
    const w10 = ctx.measureText('10').width;
    p.yExp.forEach(e => {
      const py = ys.getPixelForValue(Math.pow(10, e));
      ctx.font = '15px ' + FAMILY;
      ctx.fillText('10', L - 17 - w10, py + 5.5);
      ctx.font = '10.5px ' + FAMILY;
      ctx.fillText(String(e), L - 17, py + 1.5);
    });
    p.xExp.forEach(e => {
      const px = xs.getPixelForValue(Math.pow(10, e));
      ctx.font = '10.5px ' + FAMILY;
      const we = ctx.measureText(String(e)).width;
      const sx = px - (w10 + we) / 2;
      ctx.font = '15px ' + FAMILY;
      ctx.fillText('10', sx, B + 24);
      ctx.font = '10.5px ' + FAMILY;
      ctx.fillText(String(e), sx + w10, B + 19.5);
    });
    // panel letter and titles (page coordinates)
    ctx.translate(-p.ox, -p.oy);
    ctx.fillStyle = '#111';
    ctx.font = 'bold 25px ' + FAMILY;
    ctx.fillText(p.letter, p.lpos[0], p.lpos[1]);
    if (p.yTitle) {
      ctx.save();
      ctx.translate(25, (p.ca[1] + p.ca[3]) / 2);
      ctx.rotate(-Math.PI / 2);
      drawRich(ctx, p.yTitle, 0, 0, 18, { bold: true, align: 'center' });
      ctx.restore();
    }
    if (p.xTitle) {
      drawRich(ctx, 't/τ_{v}', (p.ca[0] + p.ca[2]) / 2, 647, 18, { bold: true, align: 'center' });
    }
    ctx.restore();
  }
};

// large jumps of the noisy stochastic curves are drawn a little heavier and solid,
// so the dense oscillation reads as a band like in the original figure
function isJump(c) {
  const a = c.p0.parsed.y, b = c.p1.parsed.y;
  return a > 0 && b > 0 && Math.abs(Math.log10(b / a)) > 0.45;
}

Object.keys(PANELS).forEach(id => {
  const p = PANELS[id];
  const cv = document.getElementById(id);
  cv.width = p.w;
  cv.height = p.h;
  cv.style.left = p.ox + 'px';
  cv.style.top = p.oy + 'px';
  const n = p.series.length;
  new Chart(cv, {
    type: 'line',
    data: {
      datasets: p.series.map((s, i) => {
        const ds = {
          label: s.label,
          data: s.pts.map(q => ({ x: q[0], y: q[1] })),
          borderColor: s.st.c,
          borderDash: s.st.d,
          borderWidth: 2,
          pointRadius: 0,
          fill: false,
          tension: 0,
          order: n - i,
          clip: { left: 0, top: 3, right: 0, bottom: 0 }
        };
        if (s.noisy) {
          const keepDash = s.st === ST.red;
          ds.segment = {
            borderWidth: c => (isJump(c) ? 3.4 : undefined),
            borderDash: c => (isJump(c) && !keepDash ? [] : undefined)
          };
        }
        return ds;
      })
    },
    options: {
      responsive: false,
      animation: false,
      devicePixelRatio: 1,
      events: [],
      layout: { padding: { left: p.ca[0] - p.ox, top: p.ca[1] - p.oy, right: p.ox + p.w - p.ca[2], bottom: p.oy + p.h - p.ca[3] } },
      scales: {
        x: { type: 'logarithmic', min: p.xMin, max: p.xMax, display: false },
        y: { type: 'logarithmic', min: p.yMin, max: p.yMax, display: false }
      },
      plugins: { legend: { display: false }, tooltip: { enabled: false } }
    },
    plugins: [decor]
  });
});
</script>
</body>
</html>
